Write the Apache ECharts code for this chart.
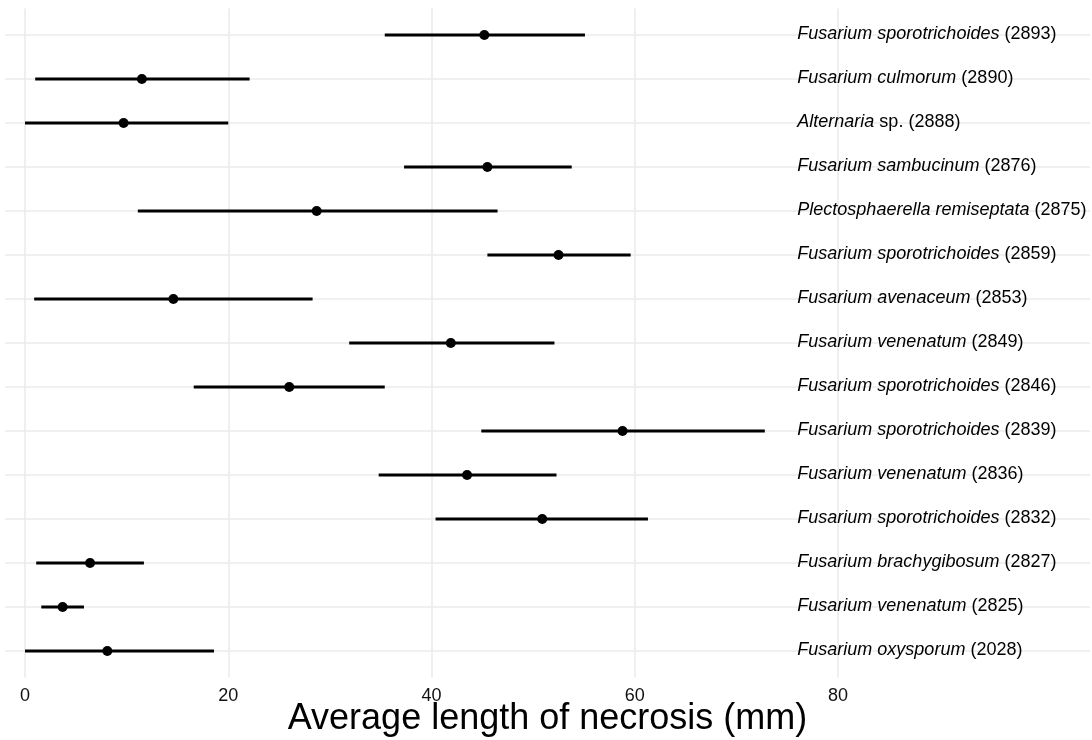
<!DOCTYPE html>
<html>
<head>
<meta charset="utf-8">
<script src="https://cdn.jsdelivr.net/npm/echarts@6/dist/echarts.min.js"></script>
<style>
html,body{margin:0;padding:0;background:#fff;}
#chart{width:1092px;height:740px;}
</style>
</head>
<body>
<div id="chart"></div>
<script>
// ---- Data (top to bottom) ----
const speciesNames = ['Fusarium sporotrichoides','Fusarium culmorum','Alternaria','Fusarium sambucinum','Plectosphaerella remiseptata','Fusarium sporotrichoides','Fusarium avenaceum','Fusarium venenatum','Fusarium sporotrichoides','Fusarium sporotrichoides','Fusarium venenatum','Fusarium sporotrichoides','Fusarium brachygibosum','Fusarium venenatum','Fusarium oxysporum'];
const strainNotes = ['(2893)','(2890)','sp. (2888)','(2876)','(2875)','(2859)','(2853)','(2849)','(2846)','(2839)','(2836)','(2832)','(2827)','(2825)','(2028)'];
const means = [45.2, 11.5, 9.7, 45.5, 28.7, 52.5, 14.6, 41.9, 26.0, 58.8, 43.5, 50.9, 6.4, 3.7, 8.1];
const lower = [35.4, 1.0, 0.0, 37.3, 11.1, 45.5, 0.9, 31.9, 16.6, 44.9, 34.8, 40.4, 1.1, 1.6, 0.0];
const upper = [55.1, 22.1, 20.0, 53.8, 46.5, 59.6, 28.3, 52.1, 35.4, 72.8, 52.3, 61.3, 11.7, 5.8, 18.6];
const xTicks = [0, 20, 40, 60, 80];
const labelX = 76;
const xTitle = 'Average length of necrosis (mm)';

const rows = speciesNames.map((_, i) => i);
const FONT = '"Liberation Sans", Arial, Helvetica, sans-serif';

const chart = echarts.init(document.getElementById('chart'), null, {renderer: 'canvas'});
const option = {
  animation: false,
  backgroundColor: '#ffffff',
  grid: {left: 5, right: 2, top: 8.6, bottom: 62.6, containLabel: false, outerBoundsMode: 'none'},
  xAxis: {
    type: 'value', min: -1.97, max: 104.8,
    axisLine: {show: false}, axisTick: {show: false}, splitLine: {show: false},
    axisLabel: {customValues: xTicks, color: '#111', fontSize: 18, fontFamily: FONT, margin: 10},
    name: xTitle, nameLocation: 'middle', nameGap: 24, nameMoveOverlap: false,
    nameTextStyle: {color: '#000', fontSize: 36, fontFamily: FONT}
  },
  yAxis: {
    type: 'value', min: -0.6, max: rows.length - 1 + 0.6, inverse: true,
    axisLine: {show: false}, axisTick: {show: false}, axisLabel: {show: false}, splitLine: {show: false}
  },
  series: [
    {
      type: 'line', data: [], z: 1, silent: true,
      markLine: {
        z: 1, silent: true, symbol: 'none', label: {show: false},
        lineStyle: {color: '#ebebeb', width: 1.6, type: 'solid'},
        emphasis: {disabled: true},
        data: xTicks.map(v => ({xAxis: v})).concat(rows.map(r => ({yAxis: r})))
      }
    },
    {
      type: 'custom', z: 3, silent: true,
      data: rows.map(i => [lower[i], upper[i], i]),
      encode: {x: [0, 1], y: 2},
      renderItem: function (params, api) {
        const a = api.coord([api.value(0), api.value(2)]);
        const b = api.coord([api.value(1), api.value(2)]);
        return {type: 'line', shape: {x1: a[0], y1: a[1], x2: b[0], y2: b[1]},
          style: {stroke: '#000', lineWidth: 3}};
      }
    },
    {
      type: 'scatter', z: 4, silent: true, symbol: 'circle', symbolSize: 10,
      itemStyle: {color: '#000', opacity: 1},
      data: rows.map(i => [means[i], i])
    },
    {
      type: 'custom', z: 5, silent: true,
      data: rows.map(i => [labelX, i]),
      renderItem: function (params, api) {
        const i = params.dataIndex;
        const p = api.coord([api.value(0), api.value(1)]);
        return {type: 'text', x: p[0], y: p[1] - 1,
          style: {
            text: '{i|' + speciesNames[i] + '} ' + strainNotes[i],
            fontFamily: FONT, fontSize: 18, fill: '#000',
            align: 'left', verticalAlign: 'middle',
            rich: {i: {fontStyle: 'italic', fontFamily: FONT, fontSize: 18, fill: '#000'}}
          }};
      }
    }
  ]
};
chart.setOption(option);
</script>
</body>
</html>
